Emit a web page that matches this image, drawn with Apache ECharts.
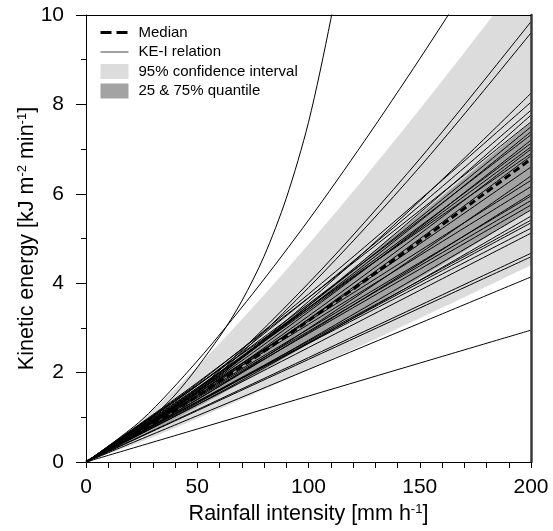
<!DOCTYPE html>
<html><head><meta charset="utf-8">
<script src="https://cdn.jsdelivr.net/npm/echarts/dist/echarts.min.js"></script>
<style>html,body{margin:0;padding:0;background:#fff}#c{width:553px;height:531px}</style>
</head><body><div id="c"></div>
<script>
// ---- data ----
const xGrid = [0, 50, 100, 150, 200];
const keLines = [
  [0,1.625,4.00,6.78,9.85],
  [0,1.584,3.90,6.60,9.60],
  [0,1.563,3.591,5.841,8.25],
  [0,1.752,3.755,5.866,8.05],
  [0,1.712,3.671,5.735,7.87],
  [0,1.576,3.497,5.574,7.76],
  [0,1.775,3.676,5.626,7.61],
  [0,1.632,3.499,5.465,7.50],
  [0,1.608,3.447,5.385,7.39],
  [0,1.708,3.536,5.412,7.32],
  [0,1.567,3.359,5.247,7.20],
  [0,1.663,3.444,5.271,7.13],
  [0,1.645,3.405,5.212,7.05],
  [0,1.523,3.266,5.101,7.00],
  [0,1.725,3.450,5.175,6.90],
  [0,1.491,3.196,4.992,6.85],
  [0,1.540,3.188,4.879,6.60],
  [0,1.393,2.986,4.664,6.40],
  [0,1.575,3.150,4.725,6.30],
  [0,1.540,3.080,4.620,6.16],
  [0,1.400,2.898,4.436,6.00],
  [0,1.488,2.975,4.463,5.95],
  [0,1.463,2.925,4.388,5.85],
  [0,1.438,2.875,4.313,5.75],
  [0,1.316,2.724,4.170,5.64],
  [0,1.283,2.657,4.066,5.50],
  [0,1.353,2.705,4.058,5.41],
  [0,1.338,2.675,4.013,5.35],
  [0,1.344,2.652,3.945,5.23],
  [0,1.280,2.560,3.840,5.12],
  [0,1.168,2.335,3.503,4.67],
  [0,1.148,2.295,3.443,4.59],
  [0,1.035,2.070,3.105,4.14],
  [0,0.738,1.475,2.213,2.95]
];
const steepX = [0, 20, 40, 60, 70, 80, 90, 100, 110, 120];
const steepY = [0, 0.6, 1.5, 2.8, 3.6, 4.6, 5.9, 7.6, 9.9, 12.6];
const curvedX = [0, 25, 50, 75, 100, 125, 150, 175, 200];
const curvedY = [0, 0.94, 2.26, 3.77, 5.41, 7.17, 9.02, 10.95, 12.96];
const bandX = [0, 25, 50, 75, 100, 125, 150, 175, 200];
const ci95Upper = [0, 0.936, 2.13, 3.46, 4.87, 6.35, 7.89, 9.48, 11.1];
const ci95Lower = [0, 0.456, 0.971, 1.51, 2.067, 2.636, 3.216, 3.804, 4.4];
const q75 = [0, 0.771, 1.654, 2.584, 3.545, 4.532, 5.538, 6.562, 7.6];
const q25 = [0, 0.573, 1.229, 1.921, 2.636, 3.369, 4.117, 4.878, 5.65];
const median = [0, 0.688, 1.475, 2.305, 3.163, 4.043, 4.941, 5.854, 6.78];
const xTicks = {min: 0, max: 200, interval: 50};
const yTicks = {min: 0, max: 10, interval: 2};

// ---- chart ----
const FONT = 'Liberation Sans, Arial, sans-serif';
const zip = (xs, ys) => xs.map((x, i) => [x, ys[i]]);
const chart = echarts.init(document.getElementById('c'), null, {renderer: 'canvas'});

function area(name, xs, ys, color, z) {
  return {
    name, type: 'line', data: zip(xs, ys), smooth: 0.3, symbol: 'none', silent: true,
    lineStyle: {width: 0, opacity: 0}, itemStyle: {color},
    areaStyle: {color, opacity: 1, origin: 'start'}, z, animation: false
  };
}
function keLine(xs, ys) {
  return {
    name: 'KE-I relation', type: 'line', data: zip(xs, ys), smooth: 0.3, symbol: 'none',
    silent: true, lineStyle: {color: '#000', width: 1}, itemStyle: {color: '#000'}, z: 3, animation: false
  };
}

// layered fills: later layers are painted on top of earlier ones
const series = [
  area('95% confidence interval', bandX, ci95Upper, '#dcdcdc', 1),
  area('25 & 75% quantile', bandX, q75, '#a3a3a3', 1.1),
  area('mask-mid', bandX, q25, '#dcdcdc', 1.2),
  area('mask-low', bandX, ci95Lower, '#ffffff', 1.3),
  keLine(steepX, steepY),
  keLine(curvedX, curvedY)
];
keLines.forEach(ys => series.push(keLine(xGrid, ys)));
series.push({
  name: 'Median', type: 'line', data: zip(bandX, median), smooth: 0.3, symbol: 'none', silent: true,
  lineStyle: {color: '#000', width: 3, type: [7, 4]}, itemStyle: {color: '#000'}, z: 4, animation: false
});

const rich = {sup: {fontSize: 13, verticalAlign: 'top', fontFamily: FONT, color: '#000', lineHeight: 13}};

chart.setOption({
  animation: false,
  backgroundColor: '#fff',
  grid: {left: 86, right: 22, top: 15, bottom: 69, containLabel: false},
  legend: {
    orient: 'vertical', left: 94, top: 20, itemWidth: 28, itemHeight: 15, itemGap: 4.5,
    textStyle: {fontFamily: FONT, fontSize: 15, color: '#000', padding: [0, 0, 0, 5], lineHeight: 15},
    selectedMode: false,
    data: [
      {name: 'Median', itemStyle: {opacity: 0}, lineStyle: {width: 3, type: [11, 5], color: '#000'}},
      {name: 'KE-I relation', itemStyle: {opacity: 0}, lineStyle: {width: 1, color: '#444'}},
      {name: '95% confidence interval', icon: 'rect', itemStyle: {color: '#dcdcdc'}},
      {name: '25 & 75% quantile', icon: 'rect', itemStyle: {color: '#a3a3a3'}}
    ]
  },
  xAxis: [{
    type: 'value', min: xTicks.min, max: xTicks.max, interval: xTicks.interval, z: 10,
    name: 'Rainfall intensity [mm h{sup|-1}]', nameLocation: 'middle', nameGap: 39,
    nameTextStyle: {fontFamily: FONT, fontSize: 21.5, color: '#000', rich},
    axisLine: {show: true, onZero: false, lineStyle: {color: '#000', width: 1}},
    axisTick: {show: true, inside: false, length: 6, lineStyle: {color: '#000', width: 1}},
    minorTick: {show: true, splitNumber: 5, length: 6, lineStyle: {color: '#000', width: 1}},
    axisLabel: {fontFamily: FONT, fontSize: 21, color: '#000', margin: 15},
    splitLine: {show: false}, minorSplitLine: {show: false}
  }, {
    type: 'value', position: 'top', min: xTicks.min, max: xTicks.max, z: 10,
    axisLine: {show: true, onZero: false, lineStyle: {color: '#000', width: 1}},
    axisTick: {show: false}, axisLabel: {show: false}, splitLine: {show: false}
  }],
  yAxis: [{
    type: 'value', min: yTicks.min, max: yTicks.max, interval: yTicks.interval, z: 10,
    name: 'Kinetic energy [kJ m{sup|-2} min{sup|-1}]', nameLocation: 'middle', nameGap: 48, nameRotate: 90,
    nameMoveOverlap: false,
    nameTextStyle: {fontFamily: FONT, fontSize: 21.5, color: '#000', rich},
    axisLine: {show: true, onZero: false, lineStyle: {color: '#000', width: 1}},
    axisTick: {show: true, inside: false, length: 10, lineStyle: {color: '#000', width: 1}},
    minorTick: {show: true, splitNumber: 2, length: 5, lineStyle: {color: '#000', width: 1}},
    axisLabel: {fontFamily: FONT, fontSize: 21, color: '#000', margin: 22},
    splitLine: {show: false}, minorSplitLine: {show: false}
  }, {
    type: 'value', position: 'right', min: yTicks.min, max: yTicks.max, z: 10,
    axisLine: {show: true, onZero: false, lineStyle: {color: '#3a3a3a', width: 2.5}},
    axisTick: {show: false}, axisLabel: {show: false}, splitLine: {show: false}
  }],
  series
});
</script></body></html>
